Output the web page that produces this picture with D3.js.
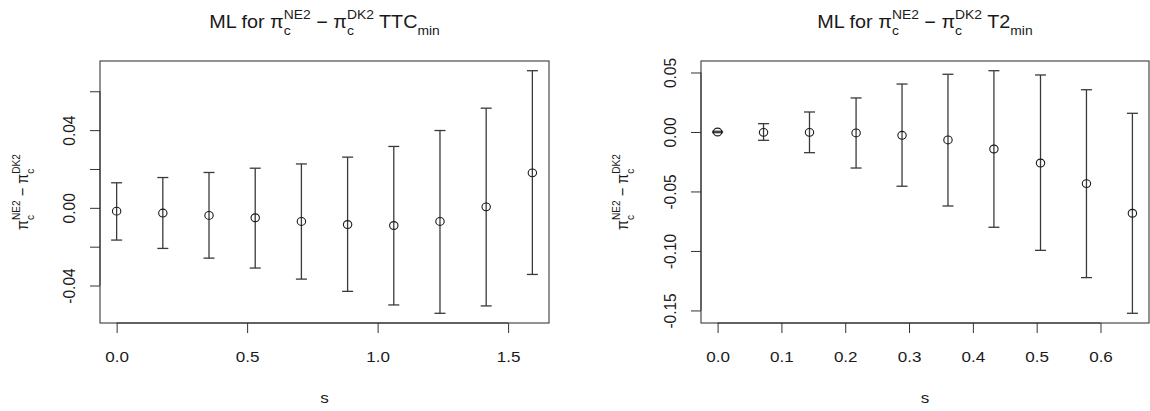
<!DOCTYPE html>
<html>
<head>
<meta charset="utf-8">
<script src="https://cdn.jsdelivr.net/npm/d3@7"></script>
<style>
body { margin: 0; background: #fff; }
svg text { font-family: "Liberation Sans", Arial, Helvetica, sans-serif; fill: #1a1a1a; white-space: pre; }
</style>
</head>
<body>
<svg id="chart" width="1150" height="411"></svg>
<script>
// 左パネル : TTC_min
var sLeft = [0, 0.177, 0.354, 0.531, 0.708, 0.885, 1.062, 1.239, 1.416, 1.593];
var estLeft = [-0.0017, -0.0027, -0.0039, -0.0051, -0.0070, -0.0086, -0.0091, -0.0070, 0.0005, 0.0180];
var lowLeft = [-0.0166, -0.0209, -0.0259, -0.0310, -0.0367, -0.0430, -0.0500, -0.0543, -0.0505, -0.0343];
var highLeft = [0.0129, 0.0156, 0.0182, 0.0204, 0.0226, 0.0261, 0.0316, 0.0398, 0.0513, 0.0706];
var xTicksLeft = [0, 0.5, 1.0, 1.5];
var yTicksLeft = [-0.04, -0.02, 0, 0.02, 0.04, 0.06];
var yLabelsLeft = [-0.04, 0, 0.04];

// 右パネル : T2_min
var sRight = [0, 0.072, 0.144, 0.217, 0.289, 0.361, 0.433, 0.506, 0.578, 0.650];
var estRight = [0, -0.0003, -0.0003, -0.0008, -0.0028, -0.0067, -0.0143, -0.0261, -0.0434, -0.0683];
var lowRight = [-0.0006, -0.0070, -0.0174, -0.0303, -0.0456, -0.0622, -0.0801, -0.0995, -0.1224, -0.1524];
var highRight = [0.0006, 0.0070, 0.0168, 0.0286, 0.0403, 0.0485, 0.0515, 0.0479, 0.0355, 0.0157];
var xTicksRight = [0, 0.1, 0.2, 0.3, 0.4, 0.5, 0.6];
var yTicksRight = [-0.15, -0.10, -0.05, 0, 0.05];
var yLabelsRight = [-0.15, -0.10, -0.05, 0, 0.05];

var titleLeft = [{t: "ML for π"}, {sup: "NE2", sub: "c"}, {t: " − π"}, {sup: "DK2", sub: "c"}, {t: " TTC"}, {sub: "min"}];
var titleRight = [{t: "ML for π"}, {sup: "NE2", sub: "c"}, {t: " − π"}, {sup: "DK2", sub: "c"}, {t: " T2"}, {sub: "min"}];
var yLab = [{t: "π"}, {sup: "NE2", sub: "c"}, {t: " − π"}, {sup: "DK2", sub: "c"}];

// 元画像は横方向に少し引き伸ばされているので文字も横に伸ばす
var stretch = 1.1;

var svg = d3.select("#chart");

// 上付き・下付きを含むラベルを組み立てる (幅を返す)
function mathLabel(g, parts, size) {
    var small = size * 0.7;
    var x = 0;
    parts.forEach(function (p) {
        if (p.t) {
            var t = g.append("text").attr("x", x).attr("y", 0)
                .style("font-size", size + "px").text(p.t);
            x += t.node().getComputedTextLength();
        } else {
            var w = 0;
            if (p.sup) {
                var a = g.append("text").attr("x", x).attr("y", -size * 0.48)
                    .style("font-size", small + "px").text(p.sup);
                w = Math.max(w, a.node().getComputedTextLength());
            }
            if (p.sub) {
                var b = g.append("text").attr("x", x).attr("y", size * 0.38)
                    .style("font-size", small + "px").text(p.sub);
                w = Math.max(w, b.node().getComputedTextLength());
            }
            x += w;
        }
    });
    return x;
}

// R風の4%余白
function padded(lo, hi) {
    var p = (hi - lo) * 0.04;
    return [lo - p, hi + p];
}

function drawPanel(cfg) {
    var left = cfg.box[0], right = cfg.box[1], top = 61, bottom = 323;
    var x = d3.scaleLinear().domain(padded(d3.min(cfg.s), d3.max(cfg.s))).range([left, right]);
    var y = d3.scaleLinear().domain(padded(d3.min(cfg.low), d3.max(cfg.high))).range([bottom, top]);

    var g = svg.append("g");

    // 枠
    g.append("rect").attr("x", left).attr("y", top)
        .attr("width", right - left).attr("height", bottom - top)
        .attr("fill", "none").attr("stroke", "#4a4a4a").attr("stroke-width", 1.2);

    // エラーバー
    var bars = g.append("g").selectAll("g").data(cfg.s).enter().append("g")
        .attr("stroke", "#3a3a3a").attr("stroke-width", 1.3);
    bars.append("line")
        .attr("x1", function (d) { return x(d); }).attr("x2", function (d) { return x(d); })
        .attr("y1", function (d, i) { return y(cfg.low[i]); })
        .attr("y2", function (d, i) { return y(cfg.high[i]); });
    bars.append("line")
        .attr("x1", function (d) { return x(d) - 5.5; }).attr("x2", function (d) { return x(d) + 5.5; })
        .attr("y1", function (d, i) { return y(cfg.high[i]); })
        .attr("y2", function (d, i) { return y(cfg.high[i]); });
    bars.append("line")
        .attr("x1", function (d) { return x(d) - 5.5; }).attr("x2", function (d) { return x(d) + 5.5; })
        .attr("y1", function (d, i) { return y(cfg.low[i]); })
        .attr("y2", function (d, i) { return y(cfg.low[i]); });

    // 点
    g.append("g").selectAll("ellipse").data(cfg.s).enter().append("ellipse")
        .attr("cx", function (d) { return x(d); })
        .attr("cy", function (d, i) { return y(cfg.est[i]); })
        .attr("rx", 4.2).attr("ry", 3.9)
        .attr("fill", "none").attr("stroke", "#1a1a1a").attr("stroke-width", 1.1);

    // x軸
    var xa = g.append("g").attr("transform", "translate(0," + bottom + ")")
        .call(d3.axisBottom(x).tickValues(cfg.xTicks).tickSize(10).tickFormat(d3.format(".1f")));
    xa.select(".domain").remove();
    xa.append("line").attr("x1", x(cfg.xTicks[0])).attr("x2", x(cfg.xTicks[cfg.xTicks.length - 1]))
        .attr("stroke", "#333");
    xa.selectAll(".tick line").attr("stroke", "#333");
    xa.selectAll(".tick text").attr("y", 39).attr("dy", 0)
        .attr("transform", "scale(" + stretch + ",1)")
        .style("font-size", "15.5px").attr("fill", "#1a1a1a");

    // y軸 (ラベルは縦向き)
    var ya = g.append("g").attr("transform", "translate(" + left + ",0)")
        .call(d3.axisLeft(y).tickValues(cfg.yTicks).tickSize(10)
            .tickFormat(function (d) {
                var hit = cfg.yLabels.some(function (v) { return Math.abs(v - d) < 1e-9; });
                return hit ? d3.format(cfg.yFmt)(d).replace("−", "-") : "";
            }));
    ya.select(".domain").remove();
    ya.append("line").attr("y1", y(cfg.yTicks[0])).attr("y2", y(cfg.yTicks[cfg.yTicks.length - 1]))
        .attr("stroke", "#333");
    ya.selectAll(".tick line").attr("stroke", "#333");
    ya.selectAll(".tick text").attr("transform", "rotate(-90) scale(1," + stretch + ")")
        .attr("x", 0).attr("y", -25 / stretch).attr("dy", 0).attr("text-anchor", "middle")
        .style("font-size", "15.5px").attr("fill", "#1a1a1a");

    // タイトル
    var cx = (left + right) / 2;
    var tg = g.append("g");
    var tw = mathLabel(tg, cfg.title, 18);
    tg.attr("transform", "translate(" + (cx - tw * stretch / 2) + ",28) scale(" + stretch + ",1)");

    // x軸名
    g.append("text").attr("x", cx / stretch).attr("y", 403).attr("text-anchor", "middle")
        .attr("transform", "scale(" + stretch + ",1)")
        .style("font-size", "15.5px").text("s");

    // y軸名
    var cy = (top + bottom) / 2;
    var yg = g.append("g");
    var inner = yg.append("g");
    var yw = mathLabel(inner, yLab, 14.5);
    inner.attr("transform", "translate(" + (-yw / 2) + ",0)");
    yg.attr("transform", "translate(" + cfg.ylabX + "," + cy + ") rotate(-90) scale(1," + stretch + ")");
}

drawPanel({
    box: [100, 549], s: sLeft, est: estLeft, low: lowLeft, high: highLeft,
    xTicks: xTicksLeft, yTicks: yTicksLeft, yLabels: yLabelsLeft, yFmt: ".2f",
    title: titleLeft, ylabX: 28
});
drawPanel({
    box: [701, 1149], s: sRight, est: estRight, low: lowRight, high: highRight,
    xTicks: xTicksRight, yTicks: yTicksRight, yLabels: yLabelsRight, yFmt: ".2f",
    title: titleRight, ylabX: 628
});
</script>
</body>
</html>
